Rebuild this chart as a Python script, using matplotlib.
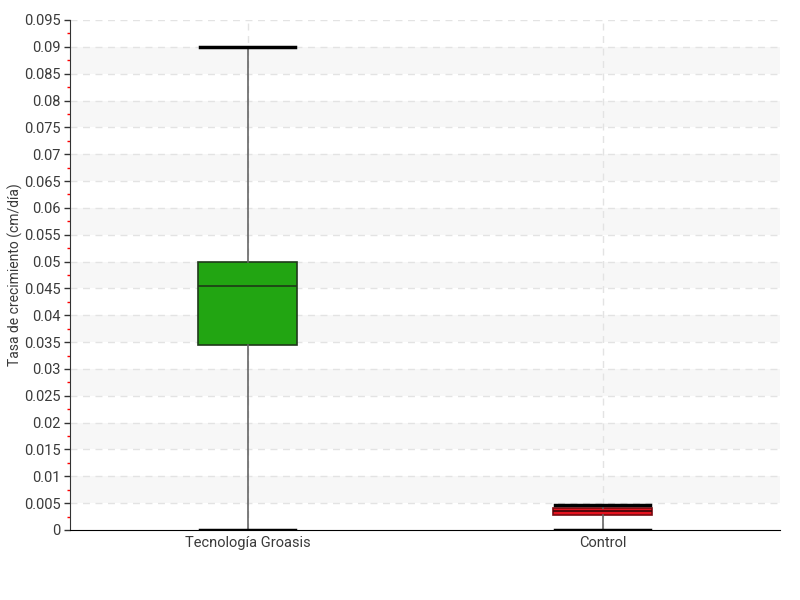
import matplotlib
matplotlib.use("Agg")
import matplotlib.pyplot as plt
import numpy as np

categories = ["Tecnología Groasis", "Control"]
whislo = [0.0, 0.0]
q1 = [0.0345, 0.0028]
med = [0.0455, 0.0035]
q3 = [0.0500, 0.0041]
whishi = [0.0900, 0.0046]
box_colors = ["#22a512", "#e5131f"]
ylabel = "Tasa de crecimiento (cm/día)"

plt.rcParams['font.family'] = ['Roboto', 'DejaVu Sans']

fig = plt.figure(figsize=(8, 6), dpi=100)
ax = fig.add_axes([0.0875, 0.1167, 0.8875, 0.85])

stats = [dict(label=c, whislo=a, q1=b, med=m, q3=d, whishi=e, fliers=[])
         for c, a, b, m, d, e in zip(categories, whislo, q1, med, q3, whishi)]

bp = ax.bxp(stats, positions=np.arange(len(categories)), widths=0.28,
            patch_artist=True, showfliers=False,
            boxprops=dict(linewidth=1.2, edgecolor="#1f3a1a"),
            medianprops=dict(color="#1e3a18", linewidth=1.2),
            whiskerprops=dict(color="#666666", linewidth=1.2),
            capprops=dict(color="black", linewidth=2.5),
            capwidths=0.27, zorder=3)
for patch, col in zip(bp['boxes'], box_colors):
    patch.set_facecolor(col)
bp['boxes'][1].set_edgecolor("#7a0a10")
bp['medians'][1].set_color("#3a0508")

ax.set_xlim(-0.5, 1.5)
ax.set_ylim(0, 0.095)
yt = np.arange(0, 0.0951, 0.005)
ax.set_yticks(yt)
ax.set_yticklabels([("%g" % round(v, 3)) for v in yt])
ax.set_yticks(np.arange(0.0025, 0.095, 0.005), minor=True)
ax.tick_params(axis='y', which='major', direction='out', length=4, width=1,
               color='#333333', labelsize=10.5, labelcolor='#3a3a3a', pad=3)
ax.tick_params(axis='y', which='minor', direction='out', length=2, width=1,
               color='red')
ax.tick_params(axis='x', length=0, labelsize=10.5, labelcolor='#3a3a3a', pad=4)

# alternating bands
for k in range(0, 19, 2):
    lo = 0.005 * (k + 1)
    hi = lo + 0.005
    ax.axhspan(lo, hi, color='#f7f7f7', zorder=0, lw=0)
for v in yt[1:]:
    ax.axhline(v, color='#e3e3e3', lw=1, ls=(0, (5, 4)), zorder=1)
for p in range(len(categories)):
    ax.axvline(p, color='#e3e3e3', lw=1, ls=(0, (5, 4)), zorder=1)

for s in ['top', 'right']:
    ax.spines[s].set_visible(False)
ax.spines['left'].set_color('#333333')
ax.spines['bottom'].set_color('black')

ax.set_ylabel(ylabel, fontsize=10, color='#3a3a3a')
ax.yaxis.set_label_coords(-0.066, 0.5)

fig.savefig("out.png", dpi=100)
